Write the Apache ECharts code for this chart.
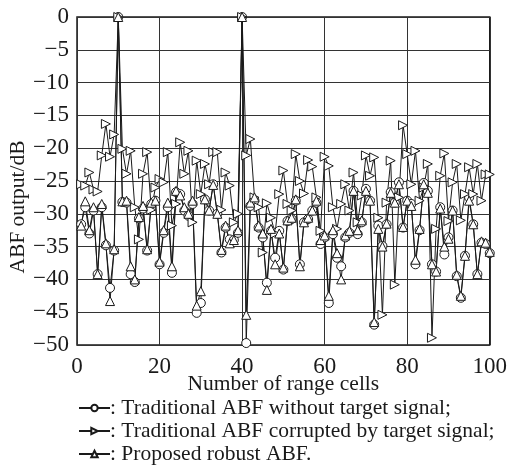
<!DOCTYPE html>
<html><head><meta charset="utf-8">
<script src="https://cdn.jsdelivr.net/npm/echarts@6/dist/echarts.min.js"></script>
<style>html,body{margin:0;padding:0;background:#fff}#c{width:510px;height:466px}</style>
</head><body><div id="c"></div>
<script>
const cells = Array.from({length:100},(_,i)=>i+1);
const withoutTarget = [-31.6,-29,-33,-29.5,-39.2,-29,-34.8,-41.3,-35.6,0,
-28.2,-28.3,-39.2,-40.4,-30.7,-29.2,-35.6,-28.5,-28,-37.7,
-32.9,-29,-39,-26.7,-27,-29.5,-30.3,-28.5,-45.1,-43.6,
-27.8,-29.5,-25.5,-30,-35.9,-32.1,-33.9,-34,-32.9,0,
-49.7,-28.8,-28,-32.1,-33.6,-40.5,-32.6,-36.7,-32.6,-38.5,
-31.1,-30.8,-28,-37.7,-31.3,-30.8,-29.5,-28.3,-34.6,-33.6,
-43.6,-33.1,-36.7,-38,-33.6,-32.9,-26.5,-33.1,-31.3,-26.2,
-28,-46.9,-31.8,-34.9,-31.6,-26.7,-28.3,-25.2,-32.1,-28,
-28.5,-37.7,-32.5,-25.3,-26.5,-37.7,-38.8,-29,-36.2,-33.6,
-29.5,-39.5,-42.8,-36.4,-27.5,-31.6,-39.2,-34.4,-34.6,-36];
const corrupted = [-25.5,-25.7,-23.7,-26.3,-26.6,-21.1,-16.3,-21.3,-17.9,0,
-20.1,-23.9,-20.4,-29,-33.9,-23.9,-20.6,-29.4,-26,-24.7,
-25.2,-20.6,-31.8,-28.5,-19.1,-23.9,-20.4,-31.3,-21.9,-27,
-22.4,-25.5,-20.6,-20.6,-29.4,-23.7,-25.7,-31.3,-30,0,
-21.1,-18.6,-27.5,-29,-35.9,-28.4,-30.6,-33,-27,-23.4,
-28.5,-29.5,-20.9,-25,-26.9,-21.8,-22.8,-27.5,-32.6,-21.3,
-22.7,-29,-32.3,-28.5,-25.5,-29.5,-23.7,-31.3,-27.2,-21.1,
-24.2,-21.4,-30.6,-45.4,-28.3,-21.9,-40.8,-27.5,-16.5,-20.9,
-25.5,-20.4,-28,-26,-22.4,-48.9,-32.3,-24.2,-20.8,-31.1,
-25.2,-22.4,-31,-27,-22.9,-27,-22.4,-28,-24,-24];
const robust = [-31.8,-28.1,-32.5,-29,-39.2,-28.5,-34.5,-43.3,-35.4,0,
-28.1,-28,-38,-40,-30.5,-28.8,-35.4,-28.3,-28,-37.3,
-32.5,-28.3,-38,-26.5,-27.2,-29,-30,-28,-44,-41.8,
-27.8,-29.5,-25.6,-30,-35.5,-31.8,-34.5,-34,-32.5,0,
-45.4,-28.3,-27.5,-31.8,-33,-41.6,-32.3,-37.7,-33,-38.2,
-31,-30.6,-27.8,-38,-31.3,-30.6,-29.5,-28,-34,-33.3,
-42.5,-32.5,-36,-40,-33.3,-32.6,-26.5,-32.5,-31,-26.5,
-28,-46.5,-32.3,-35,-31.5,-26.8,-28.3,-25.5,-32,-28,
-28.8,-37,-32.3,-25.5,-26.8,-37.7,-38.8,-29.2,-35,-33.8,
-29.5,-39.3,-42.5,-36.4,-28,-31.6,-39.2,-34.2,-34.4,-35.8];
const seriesNames = ['Traditional ABF without target signal;','Traditional ABF corrupted by target signal;','Proposed robust ABF.'];
const xTicks = [0,20,40,60,80,100];
const yTicks = [0,-5,-10,-15,-20,-25,-30,-35,-40,-45,-50];
const xTitle = 'Number of range cells';
const yTitle = 'ABF output/dB';

const font = 'Liberation Serif';
const ink = '#1a1a1a';
function pairs(v){return cells.map((c,i)=>[c,v[i]]);}
function mk(name,data,symbol,rot){
  return {name,type:'line',data:pairs(data),symbol,symbolSize:9,symbolRotate:rot||0,
    showSymbol:true,lineStyle:{color:ink,width:1},
    itemStyle:{color:'#fff',borderColor:ink,borderWidth:1},z:3,animation:false};
}
const chart = echarts.init(document.getElementById('c'),null,{renderer:'canvas'});
chart.setOption({
  animation:false,
  backgroundColor:'#fff',
  grid:{left:77,right:17,top:17,bottom:121,show:true,borderColor:ink,borderWidth:1.5,backgroundColor:'transparent'},
  xAxis:{type:'value',min:xTicks[0],max:xTicks[xTicks.length-1],interval:20,
    name:xTitle,nameLocation:'middle',nameGap:28,nameMoveOverlap:false,
    nameTextStyle:{fontFamily:font,fontSize:21.5,color:ink,verticalAlign:'top'},
    axisLine:{show:false},axisTick:{show:false},
    axisLabel:{fontFamily:font,fontSize:23,color:ink,margin:10},
    splitLine:{show:true,lineStyle:{color:'#333',width:1}}},
  yAxis:{type:'value',min:yTicks[yTicks.length-1],max:yTicks[0],interval:5,
    axisLine:{show:false},axisTick:{show:false},
    axisLabel:{fontFamily:font,fontSize:23,color:ink,margin:8,formatter:v=>String(v).replace('-','\u2212')},
    splitLine:{show:true,lineStyle:{color:'#333',width:1}}},
  graphic:[{type:'text',x:18,y:207,rotation:Math.PI/2,
    style:{text:yTitle,fontFamily:font,fontSize:21.5,fill:ink,textAlign:'center',textVerticalAlign:'middle'}}],
  legend:{orient:'vertical',left:78,top:397,padding:0,itemGap:1,itemWidth:31,itemHeight:8,height:69,
    formatter:n=>': '+n,
    textStyle:{fontFamily:font,fontSize:21.5,color:ink,padding:[0,0,0,-5]},
    data:seriesNames},
  series:[mk(seriesNames[0],withoutTarget,'circle'),
          mk(seriesNames[1],corrupted,'triangle',-90),
          mk(seriesNames[2],robust,'triangle')]
});
</script></body></html>
